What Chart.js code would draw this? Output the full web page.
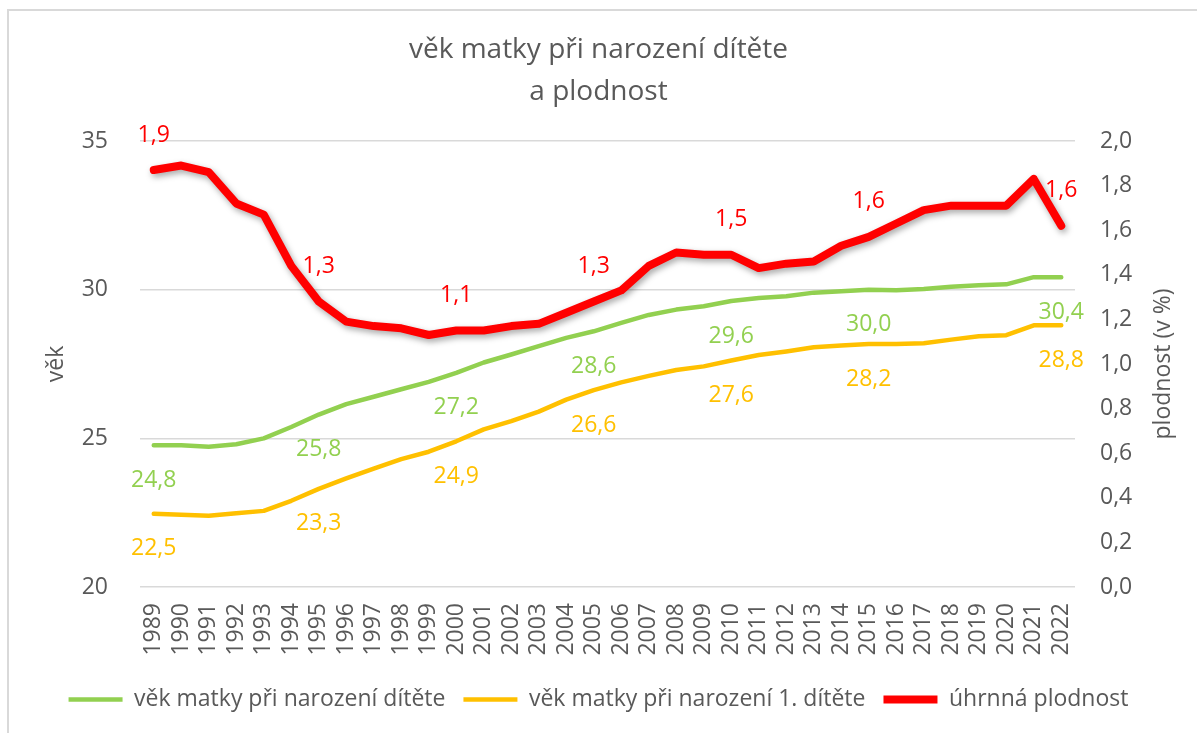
<!DOCTYPE html>
<html lang="cs">
<head>
<meta charset="utf-8">
<title>věk matky při narození dítěte a plodnost</title>
<script src="https://cdn.jsdelivr.net/npm/chart.js@4.4.1/dist/chart.umd.min.js"></script>
<style>
    html, body { margin: 0; padding: 0; background: #fff; overflow: hidden; }
    #obal { position: relative; width: 1197px; height: 733px; }
    #ramecek { position: absolute; left: 7px; top: 9px; width: 1260px; height: 800px; border: 2px solid #d9d9d9; pointer-events: none; }
    canvas { position: absolute; left: 0; top: 0; }
</style>
</head>
<body>
<div id="obal">
    <canvas id="plodnostChart" width="1197" height="733"></canvas>
    <div id="ramecek"></div>
</div>
<script>
    // Roky na ose x
    const roky = ['1989', '1990', '1991', '1992', '1993', '1994', '1995', '1996', '1997', '1998',
        '1999', '2000', '2001', '2002', '2003', '2004', '2005', '2006', '2007', '2008',
        '2009', '2010', '2011', '2012', '2013', '2014', '2015', '2016', '2017', '2018',
        '2019', '2020', '2021', '2022'];

    // Průměrný věk matky při narození dítěte (levá osa)
    const vekMatky = [24.77, 24.77, 24.72, 24.80, 25.00, 25.38, 25.80, 26.15, 26.40, 26.65,
        26.90, 27.20, 27.55, 27.82, 28.10, 28.38, 28.60, 28.88, 29.15, 29.33,
        29.44, 29.62, 29.72, 29.78, 29.90, 29.95, 30.00, 29.98, 30.02, 30.10,
        30.15, 30.18, 30.42, 30.42];

    // Průměrný věk matky při narození 1. dítěte (levá osa)
    const vekMatkyPrvni = [22.46, 22.43, 22.40, 22.48, 22.56, 22.90, 23.30, 23.65, 23.98, 24.30,
        24.55, 24.90, 25.30, 25.58, 25.90, 26.30, 26.62, 26.88, 27.10, 27.30,
        27.42, 27.62, 27.80, 27.92, 28.06, 28.12, 28.17, 28.17, 28.20, 28.32,
        28.43, 28.47, 28.80, 28.80];

    // Úhrnná plodnost (pravá osa)
    const uhrnnaPlodnost = [1.87, 1.89, 1.86, 1.72, 1.67, 1.44, 1.28, 1.19, 1.17, 1.16,
        1.13, 1.15, 1.15, 1.17, 1.18, 1.23, 1.28, 1.33, 1.44, 1.50,
        1.49, 1.49, 1.43, 1.45, 1.46, 1.53, 1.57, 1.63, 1.69, 1.71,
        1.71, 1.71, 1.83, 1.62];

    // Roky, u kterých se zobrazuje popisek hodnoty
    const popiskyIndexy = [0, 6, 11, 16, 21, 26, 33];

    const seda = '#595959';
    const carkou = v => v.toFixed(1).replace('.', ',');

    Chart.defaults.font.family = "'Open Sans', 'Noto Sans', sans-serif";
    Chart.defaults.color = seda;

    // Stín pod červenou čarou
    const stinPlugin = {
        id: 'stin',
        beforeDatasetDraw(chart, args) {
            if (args.index !== 2) return;
            const ctx = chart.ctx;
            ctx.save();
            ctx.shadowColor = 'rgba(0, 0, 0, 0.35)';
            ctx.shadowBlur = 6;
            ctx.shadowOffsetX = 2;
            ctx.shadowOffsetY = 3;
        },
        afterDatasetDraw(chart, args) {
            if (args.index === 2) chart.ctx.restore();
        }
    };

    // Popisky hodnot (pod zelenou a žlutou, nad červenou)
    const popiskyPlugin = {
        id: 'popisky',
        afterDatasetsDraw(chart) {
            const ctx = chart.ctx;
            const posun = [35, 35, -35];
            ctx.save();
            ctx.font = "23px 'Open Sans'";
            ctx.textAlign = 'center';
            ctx.textBaseline = 'middle';
            chart.data.datasets.forEach((ds, i) => {
                const meta = chart.getDatasetMeta(i);
                ctx.fillStyle = ds.borderColor;
                popiskyIndexy.forEach(idx => {
                    const bod = meta.data[idx];
                    ctx.fillText(carkou(ds.data[idx]), bod.x, bod.y + posun[i]);
                });
            });
            ctx.restore();
        }
    };

    // Název pravé osy (čte se zdola nahoru)
    const nazevPraveOsy = {
        id: 'nazevPraveOsy',
        afterDraw(chart) {
            const ctx = chart.ctx;
            const a = chart.chartArea;
            ctx.save();
            ctx.translate(1163, (a.top + a.bottom) / 2);
            ctx.rotate(-Math.PI / 2);
            ctx.font = "23px 'Open Sans'";
            ctx.fillStyle = seda;
            ctx.textAlign = 'center';
            ctx.textBaseline = 'middle';
            ctx.fillText('plodnost (v %)', 0, 0);
            ctx.restore();
        }
    };

    const plodnostChart = new Chart(document.getElementById('plodnostChart'), {
        type: 'line',
        data: {
            labels: roky,
            datasets: [{
                label: 'věk matky při narození dítěte',
                data: vekMatky,
                borderColor: '#92D050',
                backgroundColor: '#92D050',
                borderWidth: 4.5,
                yAxisID: 'y'
            }, {
                label: 'věk matky při narození 1. dítěte',
                data: vekMatkyPrvni,
                borderColor: '#FFC000',
                backgroundColor: '#FFC000',
                borderWidth: 4.5,
                yAxisID: 'y'
            }, {
                label: 'úhrnná plodnost',
                data: uhrnnaPlodnost,
                borderColor: '#FF0000',
                backgroundColor: '#FF0000',
                borderWidth: 8,
                yAxisID: 'y1'
            }]
        },
        options: {
            responsive: false,
            animation: false,
            layout: { padding: { bottom: 12 } },
            elements: {
                point: { radius: 0, hoverRadius: 0 },
                line: { tension: 0, borderCapStyle: 'round', borderJoinStyle: 'round' }
            },
            scales: {
                x: {
                    offset: true,
                    grid: { display: false },
                    border: { display: false },
                    ticks: {
                        autoSkip: false,
                        minRotation: 90,
                        maxRotation: 90,
                        padding: 8,
                        font: { size: 23 }
                    },
                    afterFit(scale) { scale.height = 83; }
                },
                y: {
                    position: 'left',
                    min: 20,
                    max: 35,
                    ticks: { stepSize: 5, padding: 32, font: { size: 23 } },
                    grid: { color: '#d9d9d9', lineWidth: 1.5, drawTicks: false },
                    border: { display: false },
                    title: { display: true, text: 'věk', font: { size: 23 }, padding: { top: 43, bottom: 0 } },
                    afterFit(scale) { scale.width = 140; }
                },
                y1: {
                    position: 'right',
                    min: 0,
                    max: 2,
                    ticks: { stepSize: 0.2, padding: 25, font: { size: 23 }, callback: v => carkou(v) },
                    grid: { display: false, drawTicks: false },
                    border: { display: false },
                    afterFit(scale) { scale.width = 122; }
                }
            },
            plugins: {
                title: {
                    display: true,
                    text: ['věk matky při narození dítěte', 'a plodnost'],
                    color: seda,
                    font: { size: 28, weight: 'normal', lineHeight: 1.5 },
                    padding: { top: 29, bottom: 28 }
                },
                legend: {
                    position: 'bottom',
                    labels: {
                        usePointStyle: true,
                        pointStyle: 'line',
                        pointStyleWidth: 54,
                        padding: 18,
                        color: seda,
                        font: { size: 23 }
                    }
                },
                tooltip: { enabled: false }
            }
        },
        plugins: [stinPlugin, popiskyPlugin, nazevPraveOsy]
    });
</script>
</body>
</html>
